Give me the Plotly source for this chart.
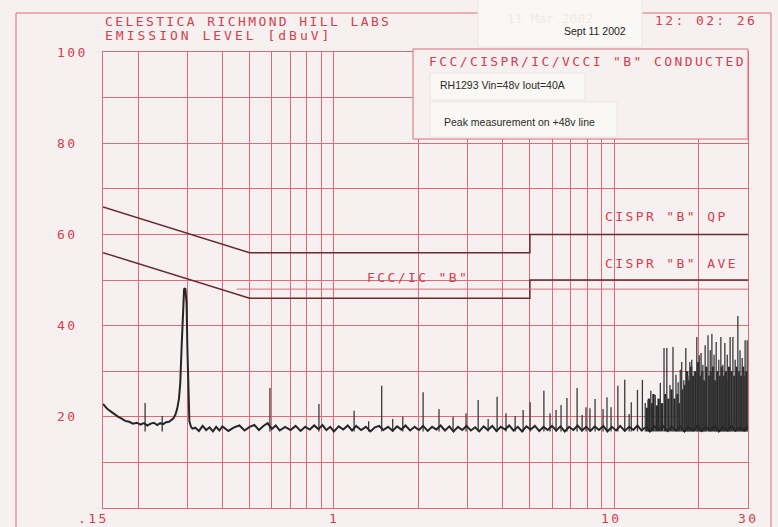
import numpy as np
import plotly.graph_objects as go

# ---------------- data ----------------
# Limit lines (MHz, dBuV)
qp_mhz = [0.15, 0.5, 5.0, 5.0, 30.0]
qp_dbuv = [66, 56, 56, 60, 60]
ave_mhz = [0.15, 0.5, 5.0, 5.0, 30.0]
ave_dbuv = [56, 46, 46, 50, 50]
fcc_mhz = [0.45, 30.0]
fcc_dbuv = [48, 48]

# Measured noise floor trace (MHz, dBuV)
base_mhz = [0.150, 0.152, 0.155, 0.158, 0.162, 0.166, 0.170, 0.175, 0.180, 0.186,
            0.192, 0.198, 0.204, 0.210, 0.216, 0.222, 0.228, 0.234, 0.240, 0.246,
            0.252, 0.258, 0.263, 0.267, 0.272, 0.276, 0.280, 0.283, 0.286, 0.289,
            0.292, 0.295, 0.298, 0.300, 0.302, 0.305, 0.309, 0.313,
            0.32, 0.33, 0.34, 0.35, 0.36, 0.37, 0.38, 0.39, 0.40, 0.42,
            0.44, 0.46, 0.48, 0.50, 0.52, 0.54, 0.56, 0.58, 0.60, 0.62,
            0.64, 0.67, 0.70, 0.73, 0.76, 0.79, 0.82, 0.85, 0.88, 0.91,
            0.94, 0.97, 1.00, 1.04, 1.08, 1.12, 1.16, 1.20, 1.25, 1.30,
            1.35, 1.40, 1.45, 1.50, 1.56, 1.62, 1.68, 1.74, 1.80, 1.87,
            1.94, 2.01, 2.08, 2.16, 2.24, 2.32, 2.40, 2.49, 2.58, 2.67,
            2.77, 2.87, 2.97, 3.08, 3.19, 3.30, 3.42, 3.54, 3.67, 3.80,
            3.94, 4.08, 4.22, 4.37, 4.53, 4.69, 4.86, 5.03, 5.21, 5.40,
            5.59, 5.79, 6.00, 6.21, 6.43, 6.66, 6.90, 7.15, 7.40, 7.67,
            7.94, 8.22, 8.52, 8.82, 9.14, 9.46, 9.80, 10.15, 10.5, 10.9,
            11.3, 11.7, 12.1, 12.5, 13.0, 13.4, 13.9, 14.4, 14.9, 15.5,
            16.0, 16.6, 17.2, 17.8, 18.4, 19.1, 19.8, 20.5, 21.2, 22.0,
            22.8, 23.6, 24.4, 25.3, 26.2, 27.1, 28.1, 29.1, 30.0]
base_dbuv = [22.8, 22.3, 21.8, 21.4, 20.9, 20.4, 20.0, 19.6, 19.1, 18.9,
             18.5, 18.7, 18.3, 18.6, 18.1, 18.5, 18.7, 18.2, 18.6, 18.4,
             18.8, 18.9, 19.3, 19.6, 20.5, 21.8, 24.0, 27.5, 35.0, 44.0,
             48.0, 48.2, 45.0, 35.0, 25.0, 19.0, 17.8, 17.4,
             17.6, 16.9, 18.0, 17.1, 17.7, 16.8, 17.8, 17.0, 17.9, 16.9,
             17.7, 18.1, 17.0, 17.8, 18.2, 17.1, 18.0, 18.6, 17.3, 18.1,
             17.0, 17.8, 17.1, 18.0, 16.9, 17.8, 17.2, 18.1, 17.3, 18.2,
             17.1, 17.8, 16.8, 17.9, 17.2, 18.1, 17.0, 18.0, 17.1, 17.8,
             16.8, 17.7, 18.0, 17.1, 17.8, 16.9, 17.9, 17.2, 18.1, 17.0,
             17.8, 17.1, 18.0, 16.9, 17.8, 17.2, 18.1, 17.0, 17.9, 16.8,
             17.8, 17.1, 18.0, 17.0, 17.7, 16.8, 17.9, 17.1, 18.0, 16.9,
             17.8, 17.2, 18.1, 17.0, 17.8, 16.8, 17.9, 17.2, 18.0, 16.9,
             17.8, 17.1, 18.0, 17.0, 17.9, 16.8, 17.8, 17.1, 18.1, 17.0,
             17.8, 16.9, 17.9, 17.1, 18.0, 16.8, 17.8, 17.0, 18.0, 16.9,
             17.8, 17.1, 18.1, 17.0, 17.8, 16.8, 17.9, 17.1, 18.0, 16.9,
             17.8, 17.0, 17.9, 16.8, 17.8, 17.0, 18.0, 16.9, 17.8, 17.1,
             17.9, 16.8, 17.8, 17.0, 18.0, 16.9, 17.7, 17.0, 17.8]

# Discrete emission spikes (MHz, peak dBuV)
spike_mhz = [0.212, 0.244, 0.591, 0.884, 1.18, 1.33, 1.48, 1.62, 1.76, 2.08,
             2.37, 2.66, 2.96, 3.27, 3.55, 3.82, 4.11, 4.43, 4.73, 5.01,
             5.61, 5.90, 6.20, 6.46, 6.78, 7.37, 7.68, 7.93, 8.19, 8.54,
             9.12, 9.42, 9.74, 10.3, 10.9, 11.3, 11.5, 12.1, 12.6, 12.9,
             13.2, 13.5, 14.0, 14.6, 15.05, 15.4, 15.8, 16.2, 16.6, 16.9,
             17.2, 17.4, 17.7, 18.0, 18.3, 18.6, 18.9, 19.3, 19.7, 20.1,
             20.4, 20.7, 21.1, 21.6, 22.0, 22.3, 22.7, 23.1, 23.6, 24.0,
             24.4, 24.8, 25.3, 25.9, 26.5, 27.0, 27.6, 28.1, 28.6, 29.0,
             29.3, 29.8]
spike_dbuv = [23.0, 20.2, 26.3, 22.8, 21.3, 19.0, 26.8, 19.5, 20.0, 25.4,
              21.7, 20.0, 20.8, 23.7, 19.5, 24.4, 20.8, 20.2, 21.5, 23.2,
              25.7, 20.8, 21.5, 22.6, 24.1, 26.3, 20.4, 22.1, 21.9, 23.9,
              21.7, 24.3, 22.1, 26.8, 28.1, 20.6, 23.2, 25.9, 28.1, 23.0,
              23.7, 25.7, 24.8, 27.4, 35.1, 35.1, 27.0, 35.3, 29.2, 27.6,
              30.3, 32.0, 28.0, 35.1, 29.0, 32.0, 32.5, 30.0, 37.5, 33.5,
              34.0, 31.4, 35.7, 37.9, 34.6, 38.2, 33.6, 36.4, 32.5, 37.5,
              31.4, 36.2, 33.6, 37.5, 37.5, 32.5, 42.1, 34.6, 32.9, 30.0,
              36.8, 36.8]

# Dense broadband cluster above 13 MHz (MHz, top dBuV)
cluster_mhz = [13.1, 13.3, 13.6, 13.8, 14.2, 14.4, 14.8, 15.2, 15.6, 16.0,
               16.4, 16.8, 17.0, 17.5, 17.9, 18.2, 18.5, 18.8, 19.1, 19.5,
               19.9, 20.2, 20.6, 20.9, 21.3, 21.8, 22.1, 22.5, 22.9, 23.3,
               23.8, 24.2, 24.6, 25.0, 25.5, 25.7, 26.2, 26.8, 27.3, 27.8,
               28.3, 28.8, 29.2, 29.6]
cluster_dbuv = [22.0, 24.0, 23.0, 25.0, 22.5, 24.0, 23.0, 25.0, 24.0, 26.0,
                24.0, 25.0, 23.0, 26.0, 27.0, 30.0, 28.0, 31.0, 29.0, 30.0,
                32.0, 29.0, 30.0, 28.0, 31.0, 29.0, 30.0, 31.0, 28.0, 30.0,
                29.0, 31.0, 29.0, 30.0, 28.0, 31.0, 30.0, 29.0, 31.0, 30.0,
                29.0, 31.0, 29.0, 30.0]
NOISE_FLOOR = 16.8

grid_mhz = [0.15, 0.2, 0.3, 0.4, 0.5, 0.6, 0.7, 0.8, 0.9, 1, 2, 3, 4, 5, 6, 7, 8, 9, 10, 20, 30]
grid_dbuv = [0, 10, 20, 30, 40, 50, 60, 70, 80, 90, 100]
x_labels = [(0.15, ".15"), (1, "1"), (10, "10"), (30, "30")]
y_labels = [100, 80, 60, 40, 20]

# ---------------- style ----------------
BG = "#f6f0f0"
GRID = "#de6a76"
RED_TXT = "#d2404e"
LIMIT = "#6a2a32"
TRACE = "#262626"
MONO = "DejaVu Sans Mono"

# plot area in pixels
L, R, T, B = 103, 748, 52, 508
def px_x(p):
    return (p - L) / (R - L)
def px_y(p):
    return (B - p) / (B - T)

def ptxt(s, ls=2.4):
    return f'<span style="letter-spacing:{ls}px">{s}</span>'

fig = go.Figure()

def seg_xy(freqs, tops):
    xs, ys = [], []
    for f, p in zip(freqs, tops):
        xs += [f, f, None]
        ys += [NOISE_FLOOR, p, None]
    return xs, ys

cx, cy = seg_xy(cluster_mhz, cluster_dbuv)
fig.add_trace(go.Scatter(x=cx, y=cy, mode="lines", line=dict(color="#2a2a2a", width=2.4),
                         hoverinfo="skip"))
sx, sy = seg_xy(spike_mhz, spike_dbuv)
fig.add_trace(go.Scatter(x=sx, y=sy, mode="lines", line=dict(color="#3a3a3a", width=1.3),
                         hoverinfo="skip"))
fig.add_trace(go.Scatter(x=base_mhz, y=base_dbuv, mode="lines",
                         line=dict(color=TRACE, width=2)))

fig.add_trace(go.Scatter(x=qp_mhz, y=qp_dbuv, mode="lines", line=dict(color=LIMIT, width=1.5)))
fig.add_trace(go.Scatter(x=ave_mhz, y=ave_dbuv, mode="lines", line=dict(color=LIMIT, width=1.5)))
fig.add_trace(go.Scatter(x=fcc_mhz, y=fcc_dbuv, mode="lines", line=dict(color=GRID, width=1)))

fig.update_layout(
    width=778, height=527,
    margin=dict(l=L, r=778 - R, t=T, b=527 - B, pad=0),
    paper_bgcolor=BG, plot_bgcolor=BG, showlegend=False,
)
fig.update_xaxes(type="log", range=[np.log10(0.15), np.log10(30)], tickvals=grid_mhz,
                 showticklabels=False, ticks="", showgrid=True, gridcolor=GRID, gridwidth=1,
                 showline=True, linecolor=GRID, linewidth=1, mirror=True, zeroline=False)
fig.update_yaxes(range=[0, 100], tickvals=grid_dbuv, showticklabels=False, ticks="",
                 showgrid=True, gridcolor=GRID, gridwidth=1,
                 showline=True, linecolor=GRID, linewidth=1, mirror=True, zeroline=False)

shapes = []
# outer frame
shapes.append(dict(type="rect", xref="paper", yref="paper", x0=px_x(16), x1=px_x(771),
                   y0=px_y(540), y1=px_y(13), line=dict(color=GRID, width=1), layer="below"))
# title box
shapes.append(dict(type="rect", xref="paper", yref="paper", x0=px_x(413), x1=px_x(748),
                   y0=px_y(139), y1=px_y(49), fillcolor=BG, line=dict(color=GRID, width=1),
                   layer="above"))
# pasted labels
for (x0, x1, y0, y1) in [(478, 642, -2, 47), (430, 585, 73, 100), (430, 617, 102, 137)]:
    shapes.append(dict(type="rect", xref="paper", yref="paper", x0=px_x(x0), x1=px_x(x1),
                       y0=px_y(y1), y1=px_y(y0), fillcolor="#f9f8f4",
                       line=dict(color="#ebe5e1", width=1), layer="above"))
fig.update_layout(shapes=shapes)

ann = []
def red(text, x, y, size=13, ls=2.4):
    ann.append(dict(text=ptxt(text, ls), xref="paper", yref="paper", x=px_x(x), y=px_y(y),
                    xanchor="left", yanchor="middle", showarrow=False,
                    font=dict(family=MONO, size=size, color=RED_TXT)))

red("CELESTICA RICHMOND HILL LABS", 103, 22)
red("EMISSION LEVEL [dBuV]", 103, 36, ls=3.0)
red("12: 02: 26", 653, 20)
red('FCC/CISPR/IC/VCCI "B" CONDUCTED', 427, 62)
red('CISPR "B" QP', 603, 217)
red('CISPR "B" AVE', 603, 263)
red('FCC/IC "B"', 365, 277)

for v in y_labels:
    ann.append(dict(text=ptxt(str(v)), xref="paper", yref="y", x=px_x(55), y=v,
                    xanchor="left", yanchor="middle", showarrow=False,
                    font=dict(family=MONO, size=13, color=RED_TXT)))
for f, t in x_labels:
    ann.append(dict(text=ptxt(t), xref="x", yref="paper", x=np.log10(f), y=px_y(518),
                    xanchor="center", yanchor="middle", showarrow=False,
                    xshift=-10 if t == ".15" else (-3 if t == "10" else 0),
                    font=dict(family=MONO, size=13, color=RED_TXT)))

ann.append(dict(text="11 Mar 2002", xref="paper", yref="paper", x=px_x(505), y=px_y(18),
                xanchor="left", yanchor="middle", showarrow=False,
                font=dict(family=MONO, size=13, color="#f0ebe8")))
ann.append(dict(text="Sept 11 2002", xref="paper", yref="paper", x=px_x(562), y=px_y(31),
                xanchor="left", yanchor="middle", showarrow=False,
                font=dict(family="Liberation Sans", size=10.5, color="#222222")))
ann.append(dict(text="RH1293 Vin=48v Iout=40A", xref="paper", yref="paper", x=px_x(438),
                y=px_y(85), xanchor="left", yanchor="middle", showarrow=False,
                font=dict(family="Liberation Sans", size=10.5, color="#2a2a2a")))
ann.append(dict(text="Peak measurement on +48v line", xref="paper", yref="paper",
                x=px_x(442), y=px_y(122), xanchor="left", yanchor="middle", showarrow=False,
                font=dict(family="Liberation Sans", size=10.5, color="#2a2a2a")))
fig.update_layout(annotations=ann)

fig.write_html("out.html", config={"displayModeBar": False},
               post_script="document.body.style.margin='0';document.body.style.background='%s';" % BG)
